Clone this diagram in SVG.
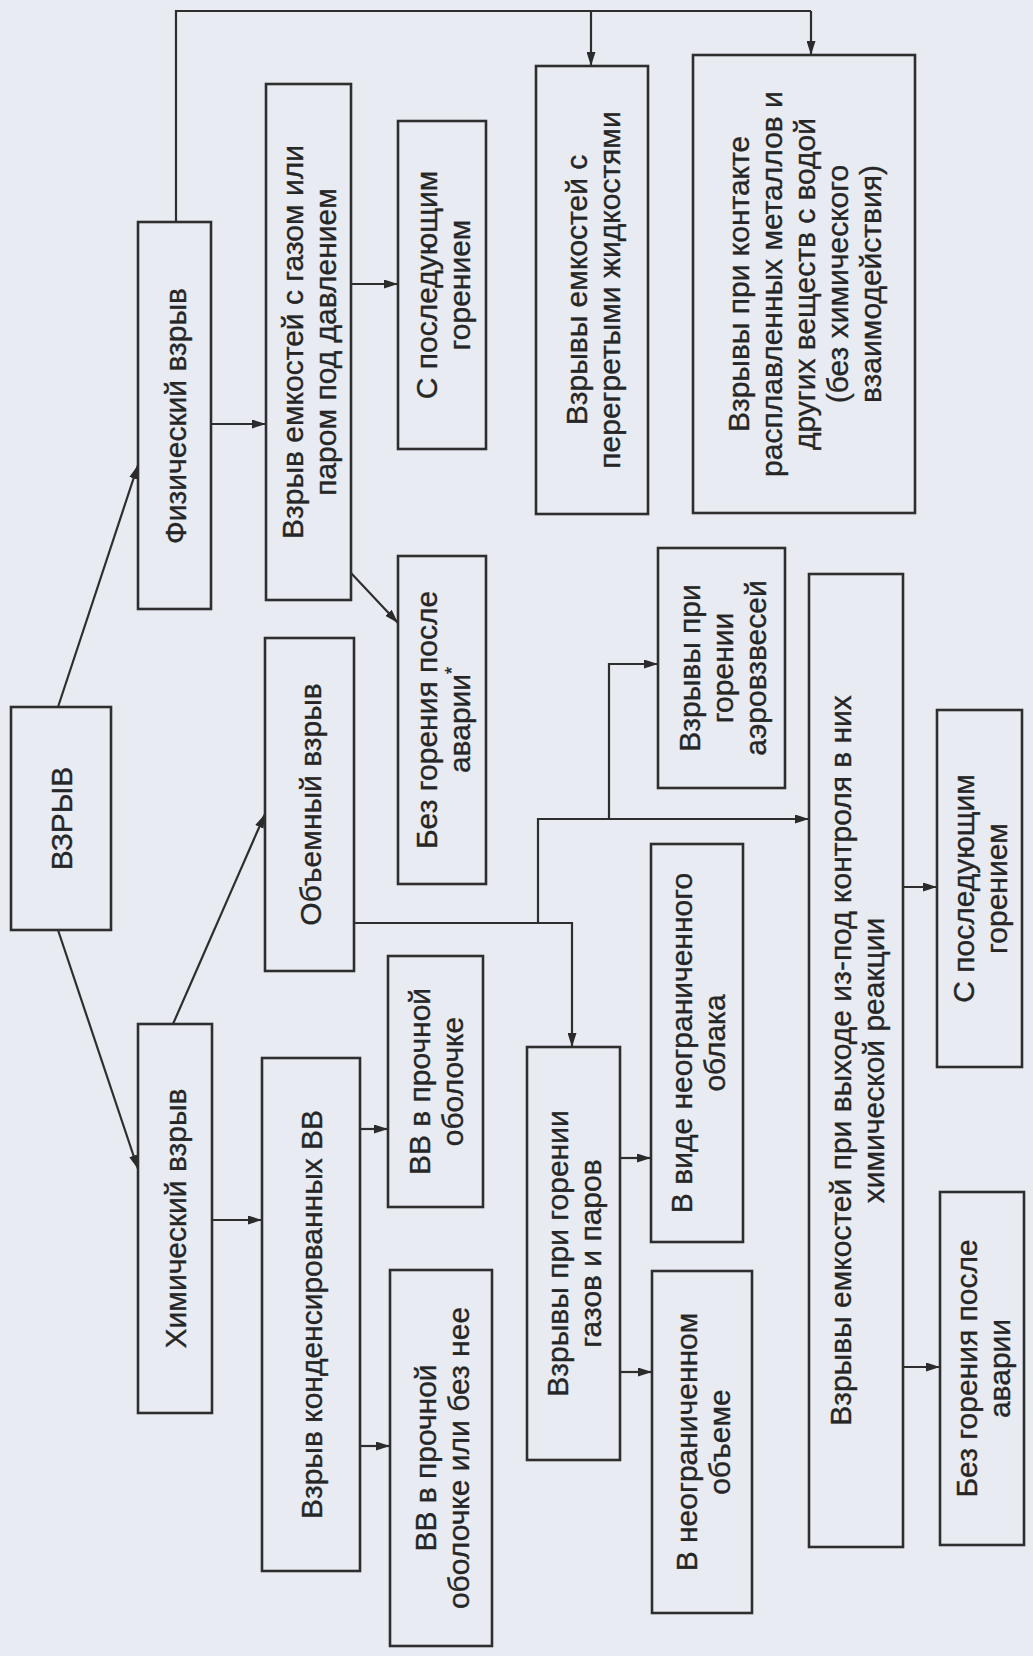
<svg xmlns="http://www.w3.org/2000/svg" width="1033" height="1656" viewBox="0 0 1033 1656">
<defs>
<marker id="ah" viewBox="0 0 14 9" refX="14" refY="4.5" markerWidth="14" markerHeight="9" orient="auto" markerUnits="userSpaceOnUse"><path d="M0,0 L14,4.5 L0,9 z" fill="#2b2b2b"/></marker>
</defs>
<style>
.box{fill:none;stroke:#2e2e2e;stroke-width:2.6}
.t{font-family:"Liberation Sans",Arial,sans-serif;font-size:30px;fill:#262626;stroke:#262626;stroke-width:0.35;text-anchor:middle}
.c{fill:none;stroke:#2e2e2e;stroke-width:2.2}
.a{marker-end:url(#ah)}
.sm{font-size:18px}
</style>
<rect x="0" y="0" width="1033" height="1656" fill="#e8ecf2"/>

<g id="connectors">
<polyline class="c" points="176,222 176,11 811,11"/>
<line class="c a" x1="811" y1="11" x2="811" y2="55"/>
<line class="c a" x1="591" y1="11" x2="591" y2="66"/>
<line class="c a" x1="58" y1="707" x2="138" y2="465"/>
<line class="c a" x1="58" y1="930" x2="138" y2="1169"/>
<line class="c a" x1="173" y1="1024" x2="265" y2="814"/>
<line class="c a" x1="211" y1="424" x2="266" y2="424"/>
<line class="c a" x1="351" y1="284" x2="398" y2="284"/>
<line class="c a" x1="351" y1="573" x2="398" y2="623"/>
<polyline class="c a" points="354,923 572,923 572,1047"/>
<polyline class="c a" points="538,923 538,819 809,819"/>
<polyline class="c a" points="609,819 609,664 658,664"/>
<line class="c a" x1="903" y1="887" x2="937" y2="887"/>
<line class="c a" x1="903" y1="1367" x2="940" y2="1367"/>
<line class="c a" x1="212" y1="1220" x2="262" y2="1220"/>
<line class="c a" x1="360" y1="1129" x2="388" y2="1129"/>
<line class="c a" x1="360" y1="1446" x2="390" y2="1446"/>
<line class="c a" x1="620" y1="1158" x2="651" y2="1158"/>
<line class="c a" x1="620" y1="1372" x2="652" y2="1372"/>
</g>

<g id="n-vzryv">
<rect class="box" x="11" y="707" width="100" height="223"/>
<text class="t" transform="translate(61 818.5) rotate(-90)"><tspan x="0" y="11">ВЗРЫВ</tspan></text>
</g>

<g id="n-fiz">
<rect class="box" x="138" y="222" width="73" height="387"/>
<text class="t" transform="translate(174.5 416) rotate(-90)"><tspan x="0" y="11">Физический взрыв</tspan></text>
</g>

<g id="n-gaz">
<rect class="box" x="266" y="84" width="85" height="516"/>
<text class="t" transform="translate(308.5 342) rotate(-90)"><tspan x="0" y="-5.5">Взрыв емкостей с газом или</tspan><tspan x="0" y="27.5">паром под давлением</tspan></text>
</g>

<g id="n-s-gor1">
<rect class="box" x="398" y="121" width="88" height="328"/>
<text class="t" transform="translate(442 285) rotate(-90)"><tspan x="0" y="-5.5">С последующим</tspan><tspan x="0" y="27.5">горением</tspan></text>
</g>

<g id="n-bez-gor1">
<rect class="box" x="398" y="556" width="88" height="328"/>
<text class="t" transform="translate(442 720) rotate(-90)"><tspan x="0" y="-5.5">Без горения после</tspan><tspan x="0" y="27.5">аварии<tspan class="sm" dy="-12">*</tspan></tspan></text>
</g>

<g id="n-obem">
<rect class="box" x="265" y="638" width="89" height="333"/>
<text class="t" transform="translate(309.5 804.5) rotate(-90)"><tspan x="0" y="11">Объемный взрыв</tspan></text>
</g>

<g id="n-peregr">
<rect class="box" x="536" y="66" width="112" height="448"/>
<text class="t" transform="translate(592 290) rotate(-90)"><tspan x="0" y="-5.5">Взрывы емкостей с</tspan><tspan x="0" y="27.5">перегретыми жидкостями</tspan></text>
</g>

<g id="n-kontakt">
<rect class="box" x="693" y="55" width="222" height="458"/>
<text class="t" transform="translate(804 284) rotate(-90)"><tspan x="0" y="-55">Взрывы при контакте</tspan><tspan x="0" y="-22">расплавленных металлов и</tspan><tspan x="0" y="11">других веществ с водой</tspan><tspan x="0" y="44">(без химического</tspan><tspan x="0" y="77">взаимодействия)</tspan></text>
</g>

<g id="n-aero">
<rect class="box" x="658" y="548" width="127" height="240"/>
<text class="t" transform="translate(721.5 668) rotate(-90)"><tspan x="0" y="-22">Взрывы при</tspan><tspan x="0" y="11">горении</tspan><tspan x="0" y="44">аэровзвесей</tspan></text>
</g>

<g id="n-reakc">
<rect class="box" x="809" y="574" width="94" height="973"/>
<text class="t" transform="translate(856 1060.5) rotate(-90)"><tspan x="0" y="-5.5">Взрывы емкостей при выходе из-под контроля в них</tspan><tspan x="0" y="27.5">химической реакции</tspan></text>
</g>

<g id="n-s-gor2">
<rect class="box" x="937" y="710" width="85" height="357"/>
<text class="t" transform="translate(979.5 888.5) rotate(-90)"><tspan x="0" y="-5.5">С последующим</tspan><tspan x="0" y="27.5">горением</tspan></text>
</g>

<g id="n-bez-gor2">
<rect class="box" x="940" y="1192" width="84" height="353"/>
<text class="t" transform="translate(982 1368.5) rotate(-90)"><tspan x="0" y="-5.5">Без горения после</tspan><tspan x="0" y="27.5">аварии</tspan></text>
</g>

<g id="n-him">
<rect class="box" x="138" y="1024" width="74" height="389"/>
<text class="t" transform="translate(175 1218.5) rotate(-90)"><tspan x="0" y="11">Химический взрыв</tspan></text>
</g>

<g id="n-kond">
<rect class="box" x="262" y="1058" width="98" height="513"/>
<text class="t" transform="translate(311 1314.5) rotate(-90)"><tspan x="0" y="11">Взрыв конденсированных ВВ</tspan></text>
</g>

<g id="n-vv1">
<rect class="box" x="388" y="956" width="95" height="251"/>
<text class="t" transform="translate(435.5 1081.5) rotate(-90)"><tspan x="0" y="-5.5">ВВ в прочной</tspan><tspan x="0" y="27.5">оболочке</tspan></text>
</g>

<g id="n-vv2">
<rect class="box" x="390" y="1270" width="102" height="376"/>
<text class="t" transform="translate(441 1458) rotate(-90)"><tspan x="0" y="-5.5">ВВ в прочной</tspan><tspan x="0" y="27.5">оболочке или без нее</tspan></text>
</g>

<g id="n-gazpar">
<rect class="box" x="527" y="1047" width="93" height="413"/>
<text class="t" transform="translate(573.5 1253.5) rotate(-90)"><tspan x="0" y="-5.5">Взрывы при горении</tspan><tspan x="0" y="27.5">газов и паров</tspan></text>
</g>

<g id="n-oblako">
<rect class="box" x="651" y="844" width="92" height="398"/>
<text class="t" transform="translate(697 1043) rotate(-90)"><tspan x="0" y="-5.5">В виде неограниченного</tspan><tspan x="0" y="27.5">облака</tspan></text>
</g>

<g id="n-obeme">
<rect class="box" x="652" y="1271" width="100" height="342"/>
<text class="t" transform="translate(702 1442) rotate(-90)"><tspan x="0" y="-5.5">В неограниченном</tspan><tspan x="0" y="27.5">объеме</tspan></text>
</g>
</svg>
